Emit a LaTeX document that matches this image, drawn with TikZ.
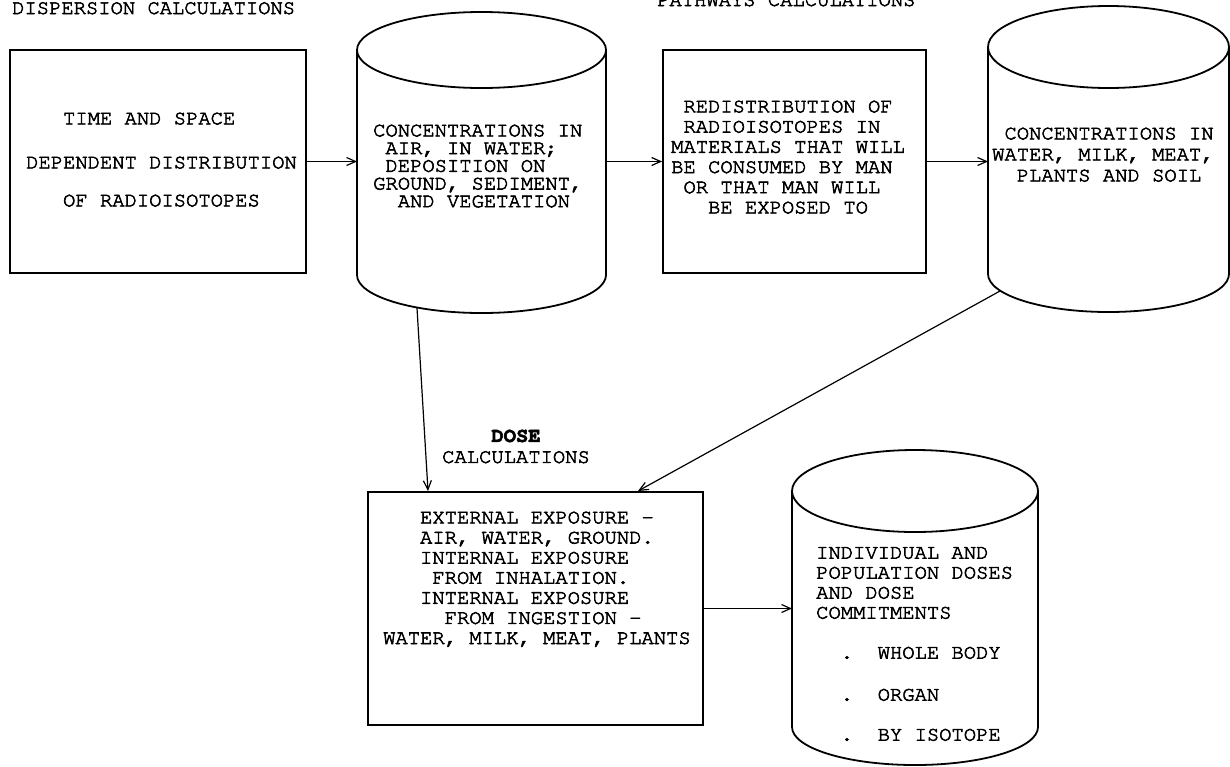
\documentclass[tikz,border=0pt]{standalone}
\usepackage[T1]{fontenc}
\usepackage{courier}
\usetikzlibrary{arrows.meta}
\newlength\chw
\setlength\chw{12.3pt}
% typewriter strokes: fill and stroke the glyph outlines
\newcommand\inked{\special{pdf:literal direct 2 Tr 0.55 w}}
% outline of a drum: body node, x radius, top y radius, bottom y radius
\newcommand\drum[4]{%
  \draw[drumline] (#1.north west) -- (#1.south west)
    arc[start angle=180, end angle=360, x radius=#2pt, y radius=#4pt]
    -- (#1.north east);
  \draw[drumline] (#1.north) ellipse[x radius=#2pt, y radius=#3pt];
}
\begin{document}
\begin{tikzpicture}[x=1pt,y=-1pt,
  tw/.style={font=\ttfamily\fontsize{20.5}{#1}\selectfont\inked, inner sep=0pt, align=left, anchor=north west},
  tw/.default=20,
  title/.style={font=\ttfamily\fontsize{20.5}{20}\selectfont\inked, inner sep=0pt, anchor=base west},
  frame/.style={draw, line width=1.8pt, inner sep=0pt},
  body/.style={inner sep=0pt, outer sep=0pt},
  drumline/.style={line width=1.8pt, line join=round},
  flow/.style={line width=1.2pt, -{Straight Barb[length=9pt,width=8pt]}},
]
\useasboundingbox (0,0) rectangle (1230,766);

% section headings
\node[title] (disp) at (12,14) {DISPERSION CALCULATIONS};
\node[title] (path) at (657,6) {PATHWAYS CALCULATIONS};

% boxes
\node[frame, minimum width=296pt, minimum height=223pt] (b1) at (158,161.5) {};
\node[frame, minimum width=263pt, minimum height=223pt] (b2) at (794.5,161.5) {};
\node[frame, minimum width=335pt, minimum height=233pt] (b3) at (535.5,608.5) {};

% drums
\node[body, minimum width=249pt, minimum height=225pt] (c1) at (481.5,162.5) {};
\node[body, minimum width=241pt, minimum height=227pt] (c2) at (1108.5,160.5) {};
\node[body, minimum width=246pt, minimum height=236pt] (c3) at (915,609) {};
\drum{c1}{124.5}{38}{38}
\drum{c2}{120.5}{41}{38}
\drum{c3}{123}{41}{38}

% texts
\node[tw=38] (t1) at (26,112) {\hspace*{3\chw}TIME AND SPACE\\[6pt]
  DEPENDENT DISTRIBUTION\\
  \hspace*{3\chw}OF RADIOISOTOPES};
\node[tw=17.7] (t2) at (373,124) {CONCENTRATIONS IN\\
  \hspace*{\chw}AIR, IN WATER;\\
  \hspace*{\chw}DEPOSITION ON\\
  GROUND, SEDIMENT,\\
  \hspace*{2\chw}AND VEGETATION};
\node[tw=20.2] (t3) at (671,100) {\hspace*{\chw}REDISTRIBUTION OF\\
  \hspace*{\chw}RADIOISOTOPES IN\\
  MATERIALS THAT WILL\\
  BE CONSUMED BY MAN\\
  \hspace*{\chw}OR THAT MAN WILL\\
  \hspace*{3\chw}BE EXPOSED TO};
\node[tw=21] (t4) at (992,127) {\hspace*{\chw}CONCENTRATIONS IN\\
  WATER, MILK, MEAT,\\
  \hspace*{2\chw}PLANTS AND SOIL};
\node[tw=20.1] (t5) at (383,511) {\hspace*{3\chw}EXTERNAL EXPOSURE -\\
  \hspace*{3\chw}AIR, WATER, GROUND.\\
  \hspace*{3\chw}INTERNAL EXPOSURE\\
  \hspace*{4\chw}FROM INHALATION.\\
  \hspace*{3\chw}INTERNAL EXPOSURE\\
  \hspace*{5\chw}FROM INGESTION -\\
  WATER, MILK, MEAT, PLANTS};
\node[tw=20] (t6) at (816,547) {INDIVIDUAL AND\\
  POPULATION DOSES\\
  AND DOSE\\
  COMMITMENTS\\[20pt]
  \hspace*{2\chw}.\hspace*{2\chw}WHOLE BODY\\[22pt]
  \hspace*{2\chw}.\hspace*{2\chw}ORGAN\\[20pt]
  \hspace*{2\chw}.\hspace*{2\chw}BY ISOTOPE};
\node[tw=21, align=center, anchor=center] (dose) at (516,446.5) {\textbf{DOSE}\\CALCULATIONS};

% connector end points on the drum bottoms and the dose box top
\coordinate (c1out) at (417,308);
\coordinate (c2out) at (1000,291);
\coordinate (b3inA) at (428,491);
\coordinate (b3inB) at (638,491);

% connectors
\draw[flow] (b1.east) -- (c1.west |- b1.east);
\draw[flow] (c1.east |- b2.west) -- (b2.west);
\draw[flow] (b2.east) -- (c2.west |- b2.east);
\draw[flow] (c1out) -- (b3inA);
\draw[flow] (c2out) -- (b3inB);
\draw[flow] (b3.east) -- (c3.west |- b3.east);
\end{tikzpicture}
\end{document}
